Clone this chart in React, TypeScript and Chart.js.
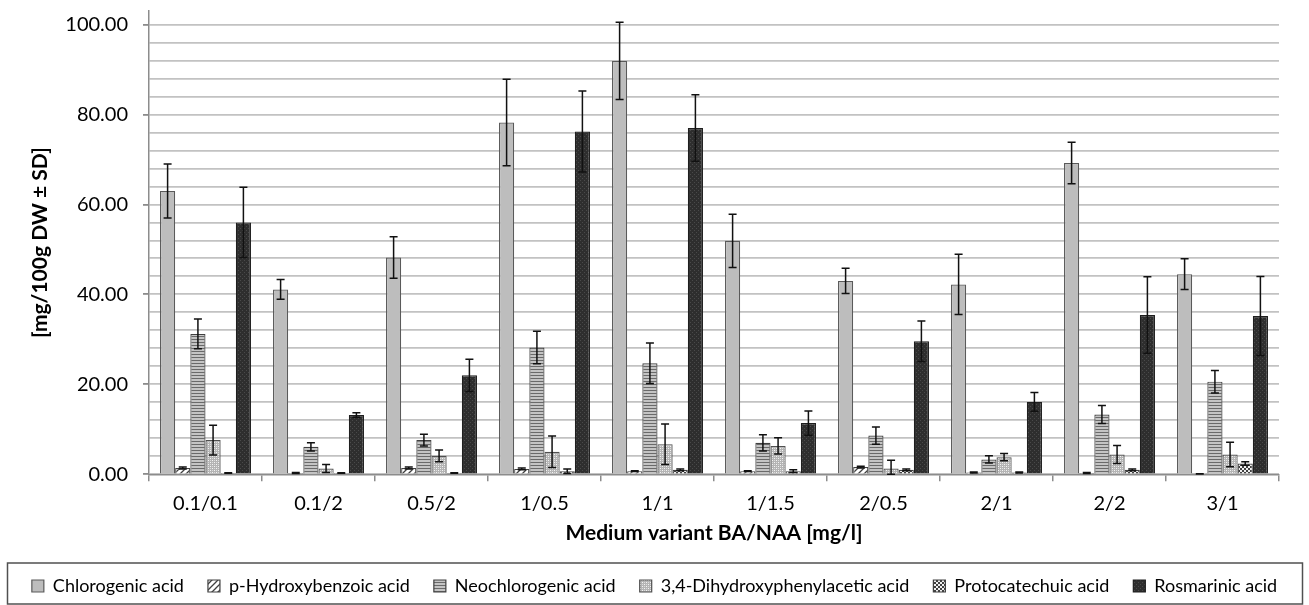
import React, { useEffect, useRef } from "react";
import { Chart, registerables } from "chart.js";

Chart.register(...registerables);

const categories = ["0.1/0.1", "0.1/2", "0.5/2", "1/0.5", "1/1", "1/1.5", "2/0.5", "2/1", "2/2", "3/1"];

const chlorogenic = [63.0, 41.1, 48.2, 78.2, 91.9, 51.9, 43.0, 42.2, 69.2, 44.5];
const chlorogenicSD = [6.0, 2.2, 4.6, 9.6, 8.6, 5.9, 2.8, 6.7, 4.6, 3.4];
const pHydroxybenzoic = [1.4, 0.3, 1.4, 1.2, 0.7, 0.7, 1.6, 0.4, 0.3, 0.1];
const pHydroxybenzoicSD = [0.2, 0.1, 0.2, 0.2, 0.1, 0.1, 0.2, 0.1, 0.1, 0.05];
const neochlorogenic = [31.2, 6.1, 7.6, 28.2, 24.7, 7.0, 8.6, 3.3, 13.3, 20.6];
const neochlorogenicSD = [3.3, 0.9, 1.3, 3.6, 4.5, 1.8, 1.9, 0.8, 2.0, 2.5];
const dihydroxyphenylacetic = [7.6, 1.3, 4.1, 5.0, 6.7, 6.3, 1.3, 3.8, 4.4, 4.4];
const dihydroxyphenylaceticSD = [3.3, 0.9, 1.3, 3.5, 4.5, 1.8, 1.8, 0.8, 2.0, 2.7];
const protocatechuic = [0.3, 0.3, 0.3, 0.7, 1.0, 0.7, 1.0, 0.4, 1.0, 2.4];
const protocatechuicSD = [0.05, 0.05, 0.05, 0.5, 0.2, 0.3, 0.2, 0.1, 0.2, 0.4];
const rosmarinic = [56.0, 13.2, 22.0, 76.2, 77.0, 11.4, 29.6, 16.1, 35.4, 35.2];
const rosmarinicSD = [7.8, 0.5, 3.6, 9.0, 7.4, 2.7, 4.5, 2.1, 8.5, 8.8];

const seriesNames = [
  "Chlorogenic acid",
  "p-Hydroxybenzoic acid",
  "Neochlorogenic acid",
  "3,4-Dihydroxyphenylacetic acid",
  "Protocatechuic acid",
  "Rosmarinic acid",
];

const yTitle = "[mg/100g DW \u00b1 SD]";
const xTitle = "Medium variant BA/NAA [mg/l]";

const FONT = "Lato, 'Open Sans', sans-serif";

function makePattern(size: number, draw: (c: CanvasRenderingContext2D) => void) {
  const cv = document.createElement("canvas");
  cv.width = size;
  cv.height = size;
  const c = cv.getContext("2d")!;
  draw(c);
  const ctx = document.createElement("canvas").getContext("2d")!;
  return ctx.createPattern(cv, "repeat")!;
}

function buildFills() {
  const chloro = "#bdbdbd";
  const hatch = makePattern(6, (c) => {
    c.fillStyle = "#ffffff";
    c.fillRect(0, 0, 6, 6);
    c.strokeStyle = "#404040";
    c.lineWidth = 1.3;
    c.beginPath();
    c.moveTo(-1, 7);
    c.lineTo(7, -1);
    c.moveTo(-4, 4);
    c.lineTo(4, -4);
    c.moveTo(2, 10);
    c.lineTo(10, 2);
    c.stroke();
  });
  const stripes = makePattern(3, (c) => {
    c.fillStyle = "#c4c4c4";
    c.fillRect(0, 0, 3, 3);
    c.fillStyle = "#6a6a6a";
    c.fillRect(0, 0, 3, 1);
  });
  const dots = makePattern(4, (c) => {
    c.fillStyle = "#b4b4b4";
    c.fillRect(0, 0, 4, 4);
    c.fillStyle = "#f4f4f4";
    c.fillRect(0, 0, 1, 1);
    c.fillRect(2, 2, 1, 1);
    c.fillStyle = "#dcdcdc";
    c.fillRect(2, 0, 1, 1);
    c.fillRect(0, 2, 1, 1);
  });
  const checker = makePattern(4, (c) => {
    c.fillStyle = "#f0f0f0";
    c.fillRect(0, 0, 4, 4);
    c.fillStyle = "#404040";
    c.fillRect(0, 0, 2, 2);
    c.fillRect(2, 2, 2, 2);
  });
  const dark = makePattern(4, (c) => {
    c.fillStyle = "#2e2e2e";
    c.fillRect(0, 0, 4, 4);
    c.fillStyle = "#4a4a4a";
    c.fillRect(0, 0, 1, 1);
    c.fillRect(2, 2, 1, 1);
  });
  return [chloro, hatch, stripes, dots, checker, dark];
}

const errorBarsPlugin = {
  id: "errorBars",
  afterDatasetsDraw(chart: any) {
    const { ctx } = chart;
    const y = chart.scales.y;
    ctx.save();
    ctx.strokeStyle = "#111111";
    ctx.lineWidth = 1.5;
    chart.data.datasets.forEach((ds: any, i: number) => {
      const meta = chart.getDatasetMeta(i);
      if (meta.hidden) return;
      meta.data.forEach((bar: any, j: number) => {
        const v = ds.data[j];
        const sd = ds.sd[j];
        const top = y.getPixelForValue(v + sd);
        const bot = y.getPixelForValue(Math.max(0, v - sd));
        const x = bar.x;
        ctx.beginPath();
        ctx.moveTo(x, top);
        ctx.lineTo(x, bot);
        ctx.moveTo(x - 4, top);
        ctx.lineTo(x + 4, top);
        ctx.moveTo(x - 4, bot);
        ctx.lineTo(x + 4, bot);
        ctx.stroke();
      });
    });
    ctx.restore();
  },
};

const legendBoxPlugin = {
  id: "legendBox",
  afterDraw(chart: any) {
    const lg = chart.legend;
    if (!lg) return;
    const { ctx } = chart;
    const pad = lg.options.labels.padding;
    const rowCenter = lg.top + pad + 9;
    ctx.save();
    ctx.strokeStyle = "#505050";
    ctx.lineWidth = 1.5;
    ctx.strokeRect(7.5, rowCenter - 23, chart.width - 14, 41);
    ctx.restore();
  },
};

export default function App() {
  const ref = useRef<HTMLCanvasElement | null>(null);

  useEffect(() => {
    if (!ref.current) return;
    const fills = buildFills();
    const values = [chlorogenic, pHydroxybenzoic, neochlorogenic, dihydroxyphenylacetic, protocatechuic, rosmarinic];
    const sds = [chlorogenicSD, pHydroxybenzoicSD, neochlorogenicSD, dihydroxyphenylaceticSD, protocatechuicSD, rosmarinicSD];
    const borders = ["#5a5a5a", "#404040", "#404040", "#505050", "#404040", "#1e1e1e"];
    const chart = new Chart(ref.current, {
      type: "bar",
      data: {
        labels: categories,
        datasets: seriesNames.map((name, i) => ({
          label: name,
          data: values[i],
          sd: sds[i],
          backgroundColor: fills[i],
          borderColor: borders[i],
          borderWidth: 1.2,
          categoryPercentage: 0.805,
          barPercentage: 1.0,
          yAxisID: "y",
        })) as any,
      },
      options: {
        responsive: false,
        animation: false,
        devicePixelRatio: 1,
        layout: { padding: { top: 11, left: 0, right: 0, bottom: 0 } },
        plugins: {
          tooltip: { enabled: false },
          legend: {
            position: "bottom",
            maxHeight: 54,
            labels: {
              boxWidth: 12,
              boxHeight: 12,
              padding: 24,
              color: "#000",
              font: { family: FONT, size: 18 },
            },
          },
        },
        scales: {
          x: {
            grid: {
              display: true,
              drawOnChartArea: false,
              drawTicks: true,
              tickLength: 7,
              color: "#8c8c8c",
              lineWidth: 1.5,
            },
            border: { display: true, color: "#8c8c8c", width: 1.5 },
            ticks: {
              color: "#000",
              padding: 10.7,
              font: { family: FONT, size: 20 },
              maxRotation: 0,
              autoSkip: false,
            },
            title: {
              display: true,
              text: xTitle,
              color: "#000",
              font: { family: FONT, size: 21, weight: "bold" },
              padding: { top: -6.3, bottom: 7.4 },
            },
          },
          y: {
            position: "left",
            min: 0,
            max: 103,
            afterBuildTicks: (scale: any) => {
              scale.ticks = scale.ticks.filter((t: any) => t.value <= 100 && t.value % 4 === 0);
            },
            afterFit: (scale: any) => {
              scale.width = 149;
              scale.paddingTop = 0;
              scale.paddingBottom = 0;
            },
            ticks: {
              stepSize: 4,
              includeBounds: false,
              padding: 15,
              autoSkip: false,
              color: "#000",
              font: { family: FONT, size: 20 },
              callback: (v: any) => (Number(v) % 20 === 0 ? Number(v).toFixed(2) : ""),
            },
            grid: {
              color: "#c2c2c2",
              lineWidth: 1.8,
              tickLength: 6,
              tickColor: (ctx: any) => (ctx.tick && ctx.tick.value % 20 === 0 ? "#8c8c8c" : "rgba(0,0,0,0)"),
            },
            border: { display: true, color: "#8c8c8c", width: 1.5 },
            title: {
              display: true,
              text: yTitle,
              color: "#000",
              font: { family: FONT, size: 21, weight: "bold" },
              padding: { top: 27.4, bottom: 16 },
            },
          },
          yRight: {
            type: "linear",
            position: "right",
            display: true,
            grid: { display: false, drawTicks: false },
            border: { display: false },
            ticks: { display: false },
            afterFit: (scale: any) => {
              scale.width = 30;
              scale.paddingTop = 0;
              scale.paddingBottom = 0;
            },
          },
        },
      } as any,
      plugins: [errorBarsPlugin, legendBoxPlugin],
    });
    return () => chart.destroy();
  }, []);

  return (
    <div style={{ position: "absolute", left: 0, top: 0, width: 1309, height: 605, background: "#fff" }}>
      <canvas ref={ref} width={1309} height={605} />
    </div>
  );
}
